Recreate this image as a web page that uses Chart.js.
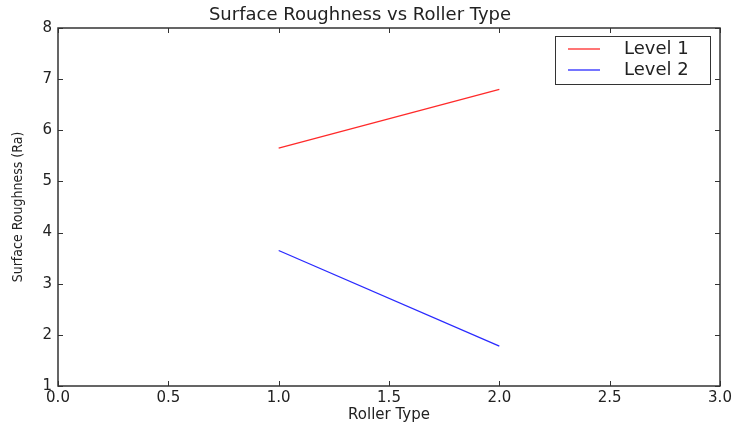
<!DOCTYPE html>
<html>
<head>
<meta charset="utf-8">
<script src="https://cdn.jsdelivr.net/npm/chart.js@4"></script>
<style>
    html, body { margin: 0; padding: 0; background: #fff; }
    #wrap { width: 732px; height: 426px; }
</style>
</head>
<body>
<div id="wrap"><canvas id="roughChart"></canvas></div>
<script>
let rollerType = [1, 2];
let level1 = [5.65, 6.8];
let level2 = [3.65, 1.78];
let seriesNames = ['Level 1', 'Level 2'];
let seriesColors = ['#ff2a2a', '#2a2aff'];
let xTicks = [0, 0.5, 1, 1.5, 2, 2.5, 3];
let yTicks = [1, 2, 3, 4, 5, 6, 7, 8];

let fontMain = 'DejaVu Sans';

// matplotlib-ish frame, inward ticks on all 4 sides and the boxed legend
const frameTicks = {
    id: 'frameTicks',
    afterDatasetsDraw(chart) {
        let ctx = chart.ctx;
        let a = chart.chartArea;
        let x = chart.scales.x;
        let y = chart.scales.y;
        ctx.save();
        ctx.strokeStyle = '#333';
        ctx.lineWidth = 1;
        ctx.beginPath();
        xTicks.forEach(v => {
            let px = Math.round(x.getPixelForValue(v)) + 0.5;
            ctx.moveTo(px, a.bottom); ctx.lineTo(px, a.bottom - 5);
            ctx.moveTo(px, a.top); ctx.lineTo(px, a.top + 5);
        });
        yTicks.forEach(v => {
            let py = Math.round(y.getPixelForValue(v)) + 0.5;
            ctx.moveTo(a.left, py); ctx.lineTo(a.left + 5, py);
            ctx.moveTo(a.right, py); ctx.lineTo(a.right - 5, py);
        });
        ctx.stroke();
        ctx.lineWidth = 1.5;
        ctx.strokeRect(a.left, a.top, a.right - a.left, a.bottom - a.top);

        // legend
        let bx = a.right - 165, by = a.top + 8, bw = 155, bh = 48;
        ctx.fillStyle = '#fff';
        ctx.fillRect(bx, by, bw, bh);
        ctx.lineWidth = 1;
        ctx.strokeRect(bx + 0.5, by + 0.5, bw, bh);
        ctx.font = '18px ' + fontMain;
        ctx.textBaseline = 'middle';
        ctx.textAlign = 'left';
        chart.data.datasets.forEach((ds, i) => {
            let ly = by + 13 + i * 21;
            ctx.strokeStyle = ds.borderColor;
            ctx.lineWidth = 1.3;
            ctx.beginPath();
            ctx.moveTo(bx + 13, ly);
            ctx.lineTo(bx + 45, ly);
            ctx.stroke();
            ctx.fillStyle = '#222';
            ctx.fillText(ds.label, bx + 69, ly);
        });
        ctx.restore();
    }
};

let ctx = document.getElementById('roughChart').getContext('2d');
new Chart(ctx, {
    type: 'line',
    data: {
        datasets: [
            {
                label: seriesNames[0],
                data: rollerType.map((r, i) => ({ x: r, y: level1[i] })),
                borderColor: seriesColors[0],
                borderWidth: 1.3,
                pointRadius: 0,
                fill: false
            },
            {
                label: seriesNames[1],
                data: rollerType.map((r, i) => ({ x: r, y: level2[i] })),
                borderColor: seriesColors[1],
                borderWidth: 1.3,
                pointRadius: 0,
                fill: false
            }
        ]
    },
    options: {
        responsive: true,
        maintainAspectRatio: false,
        animation: false,
        layout: { padding: { top: 0, right: 12, left: 0, bottom: 0 } },
        plugins: {
            legend: { display: false },
            tooltip: { enabled: false },
            title: {
                display: true,
                text: 'Surface Roughness vs Roller Type',
                color: '#222',
                font: { family: fontMain, size: 18, weight: 'normal', lineHeight: 1 },
                padding: { top: 6, bottom: 4 }
            }
        },
        scales: {
            x: {
                type: 'linear',
                min: 0,
                max: 3,
                afterFit: s => { s.height = 40; s.paddingLeft = 0; s.paddingRight = 0; },
                afterBuildTicks: s => { s.ticks = xTicks.map(v => ({ value: v })); },
                grid: { display: false, drawTicks: false },
                border: { display: false },
                ticks: {
                    color: '#222',
                    padding: 3,
                    maxRotation: 0,
                    font: { family: fontMain, size: 15 },
                    callback: v => v.toFixed(1)
                },
                title: {
                    display: true,
                    text: 'Roller Type',
                    color: '#222',
                    font: { family: fontMain, size: 15 },
                    padding: { top: 0, bottom: 2 }
                }
            },
            y: {
                min: 1,
                max: 8,
                afterFit: s => { s.width = 58; s.paddingTop = 0; s.paddingBottom = 0; },
                afterBuildTicks: s => { s.ticks = yTicks.map(v => ({ value: v })); },
                grid: { display: false, drawTicks: false },
                border: { display: false },
                ticks: {
                    color: '#222',
                    padding: 6,
                    font: { family: fontMain, size: 15 }
                },
                title: {
                    display: true,
                    text: 'Surface Roughness (Ra)',
                    color: '#222',
                    font: { family: 'DejaVu Sans Condensed', size: 14 },
                    padding: { top: 10, bottom: 0 }
                }
            }
        }
    },
    plugins: [frameTicks]
});
</script>
</body>
</html>
